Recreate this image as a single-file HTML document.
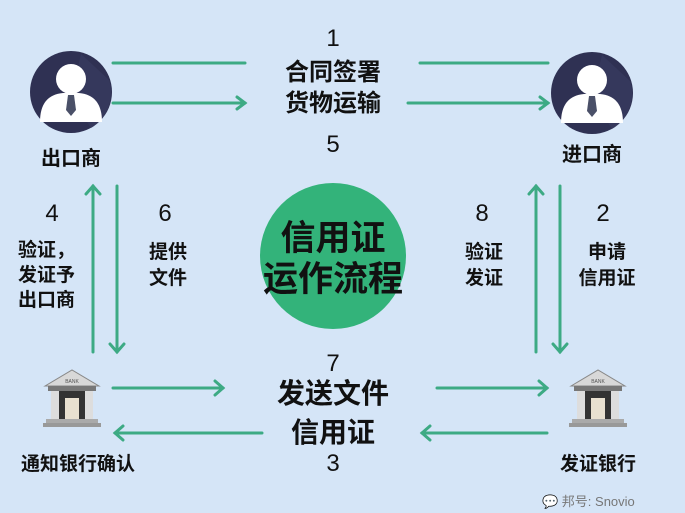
<!DOCTYPE html>
<html><head><meta charset="utf-8"><style>
body{margin:0;width:685px;height:513px;overflow:hidden;background:#d5e5f7;font-family:"Liberation Sans","Noto Sans CJK SC",sans-serif;}
svg{position:absolute;left:0;top:0}
</style></head><body>
<svg width="685" height="513" viewBox="0 0 685 513">
<defs>
<g id="person">
<circle cx="0" cy="0" r="41" fill="#2f3153"/>
<path d="M10,-38 L38,-12 A41 41 0 0 1 20 36 L 0 5Z" fill="#3a3d62" opacity="0.6"/>
<circle cx="0" cy="-13" r="15" fill="#fff"/>
<path d="M-31,30 Q-31,3 -8,1 L8,1 Q31,3 31,30 Z" fill="#fff"/>
<path d="M-3,3 L3,3 L5,18 L0,24 L-5,18Z" fill="#4a5068"/>
</g>
<g id="bank">
<polygon points="-27,-12 0,-28 27,-12" fill="#d8d8d8" stroke="#888" stroke-width="1"/>
<text x="0" y="-15" font-size="5" text-anchor="middle" fill="#555">BANK</text>
<rect x="-24" y="-12" width="48" height="5" fill="#777"/>
<rect x="-21" y="-7" width="8" height="28" fill="#ddd"/>
<rect x="13" y="-7" width="8" height="28" fill="#ddd"/>
<rect x="-13" y="-7" width="26" height="28" fill="#333"/>
<rect x="-7" y="0" width="14" height="21" fill="#e8e0d0"/>
<rect x="-26" y="21" width="52" height="4" fill="#aaa"/>
<rect x="-29" y="25" width="58" height="4" fill="#999"/>
</g>
</defs>
<g stroke="#3daa84" stroke-width="3" fill="none" stroke-linecap="round">
<line x1="113" y1="63" x2="245" y2="63"/>
<line x1="420" y1="63" x2="548" y2="63"/>
<line x1="113" y1="103" x2="245" y2="103"/><polyline points="237,97 245,103 237,109"/>
<line x1="408" y1="103" x2="548" y2="103"/><polyline points="540,97 548,103 540,109"/>
<line x1="93" y1="352" x2="93" y2="186"/><polyline points="86,194 93,186 100,194"/>
<line x1="117" y1="186" x2="117" y2="352"/><polyline points="110,344 117,352 124,344"/>
<line x1="536" y1="352" x2="536" y2="186"/><polyline points="529,194 536,186 543,194"/>
<line x1="560" y1="186" x2="560" y2="352"/><polyline points="553,344 560,352 567,344"/>
<line x1="113" y1="388" x2="223" y2="388"/><polyline points="215,381 223,388 215,395"/>
<line x1="262" y1="433" x2="115" y2="433"/><polyline points="123,426 115,433 123,440"/>
<line x1="437" y1="388" x2="547" y2="388"/><polyline points="539,381 547,388 539,395"/>
<line x1="547" y1="433" x2="422" y2="433"/><polyline points="430,426 422,433 430,440"/>
</g>
<use href="#person" x="71" y="92"/>
<use href="#person" x="592" y="93"/>
<use href="#bank" x="72" y="398"/>
<use href="#bank" x="598" y="398"/>
<circle cx="333" cy="256" r="73" fill="#33b37a"/>
<g font-weight="bold" fill="#111" text-anchor="middle">
<text x="333" y="250" font-size="35">信用证</text>
<text x="333" y="291" font-size="35">运作流程</text>
<text x="333" y="80" font-size="24">合同签署</text>
<text x="333" y="111" font-size="24">货物运输</text>
<text x="71" y="165" font-size="20">出口商</text>
<text x="592" y="161" font-size="20">进口商</text>
<text x="168" y="258" font-size="19">提供</text>
<text x="168" y="284" font-size="19">文件</text>
<text x="484" y="258" font-size="19">验证</text>
<text x="484" y="284" font-size="19">发证</text>
<text x="607" y="258" font-size="19">申请</text>
<text x="607" y="284" font-size="19">信用证</text>
<text x="333" y="403" font-size="28">发送文件</text>
<text x="333" y="442" font-size="28">信用证</text>
<text x="78" y="470" font-size="19">通知银行确认</text>
<text x="598" y="470" font-size="19">发证银行</text>
</g>
<g font-weight="bold" fill="#111" font-size="19">
<text x="18" y="256">验证，</text>
<text x="18" y="281">发证予</text>
<text x="18" y="306">出口商</text>
</g>
<g fill="#111" font-size="24" text-anchor="middle">
<text x="333" y="46">1</text>
<text x="333" y="152">5</text>
<text x="52" y="221">4</text>
<text x="165" y="221">6</text>
<text x="482" y="221">8</text>
<text x="603" y="221">2</text>
<text x="333" y="371">7</text>
<text x="333" y="471">3</text>
</g>
<text x="542" y="506" font-size="13" fill="#777">💬 邦号: Snovio</text>
</svg>
</body></html>
